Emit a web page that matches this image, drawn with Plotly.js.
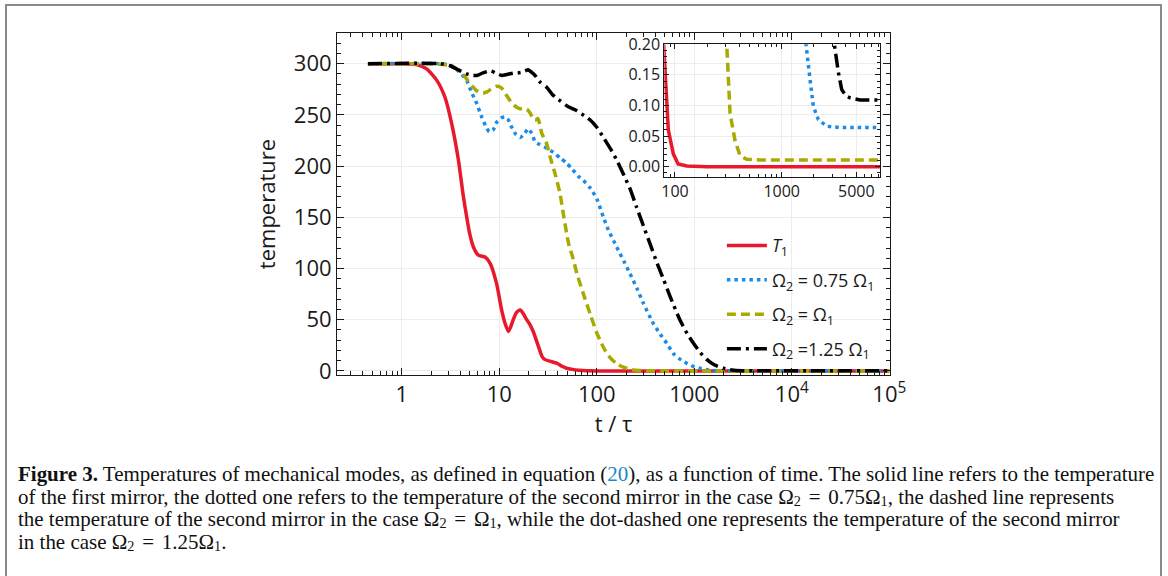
<!DOCTYPE html>
<html>
<head>
<meta charset="utf-8">
<script src="https://cdn.plot.ly/plotly-3.0.1.min.js"></script>
<style>
  html, body { margin: 0; padding: 0; background: #fff; }
  #wrap { position: relative; width: 1168px; height: 576px; overflow: hidden; }
  #chart { position: absolute; left: 0; top: 0; width: 1168px; height: 576px; }
  #frame { position: absolute; left: 5px; top: 4px; width: 1153px; height: 620px;
           border: 2px solid #8a8a8a; border-bottom: none; pointer-events: none; }
  #caption { position: absolute; left: 18px; top: 463px; width: 1150px;
             font-family: "Liberation Serif", "DejaVu Serif", serif; font-size: 20px;
             line-height: 22.6px; color: #111; }
  #caption .ln { white-space: nowrap; height: 22.6px; }
  #caption .ln span.inner { display: inline-block; }
  #caption b { font-weight: bold; }
  #caption .ref { color: #1a8ac6; }
  #caption sub { font-size: 68%; vertical-align: -0.16em; line-height: 0; }
  #caption .eq { padding: 0 0.12em; }
</style>
</head>
<body>
<div id="wrap">
  <div id="chart"></div>
  <div id="frame"></div>
  <div id="caption">
    <div class="ln"><span class="inner" id="firstLine"><b>Figure 3.</b> Temperatures of mechanical modes, as defined in equation (<span class="ref">20</span>), as a function of time. The solid line refers to the temperature</span></div>
    <div class="ln">of the first mirror, the dotted one refers to the temperature of the second mirror in the case Ω<sub>2</sub> <span class="eq">=</span> 0.75Ω<sub>1</sub>, the dashed line represents</div>
    <div class="ln">the temperature of the second mirror in the case Ω<sub>2</sub> <span class="eq">=</span> Ω<sub>1</sub>, while the dot-dashed one represents the temperature of the second mirror</div>
    <div class="ln">in the case Ω<sub>2</sub> <span class="eq">=</span> 1.25Ω<sub>1</sub>.</div>
  </div>
</div>
<script>
// Temperature of the first mirror, T1, versus t/τ
const tT1 = [0.45, 1.0, 1.3, 1.45, 1.8, 2.28, 2.78, 3.26, 3.81, 4.29, 4.64, 5.0, 5.43, 6.1, 7.2,
  8.06, 9.4, 10.6, 11.5, 12.4, 13.1, 13.9, 15.0, 16.4, 17.6, 19.1, 20.7, 22.4, 25.2, 27.5,
  29.5, 33, 38.9, 44, 49, 60, 72.8, 79.4, 86.6, 96.4, 107, 129, 200, 1000, 100000];
const T1 = [300, 300, 299.5, 299, 295, 284, 267, 241, 206, 170, 150, 133, 121, 113, 111,
  105, 85, 59, 46, 38.5, 43, 50, 57, 59.5, 56, 50, 45, 38, 24, 14,
  11, 9.5, 7.5, 4.5, 2.6, 1, 0.3, 0.18, 0.06, 0.021, 0.0045, 0.001, 0, 0, 0];

// Second mirror, Ω2 = 0.75 Ω1
const tB = [0.45, 2.5, 3.0, 3.39, 3.9, 4.64, 5.2, 5.88, 6.6, 7.45, 7.9, 8.6, 9.43, 10.4, 11.5,
  12.4, 13.4, 14.8, 16.4, 18, 19.8, 21.5, 23.3, 26, 30, 35.8, 42, 49, 56, 64.7, 72.8, 85,
  100, 117, 131, 160, 190, 219, 260, 301, 379, 447, 522, 609, 700, 837, 1000, 1140, 1400,
  1500, 1690, 1841, 1977, 2203, 2642, 3519, 5000, 100000];
const TB = [300, 300, 299, 297, 292, 283.5, 272, 261, 248, 237, 233.5, 235, 243, 247, 248,
  245, 238, 231, 228, 231, 236.5, 232, 224, 221, 218, 213.5, 208, 203, 197, 190, 186, 179,
  168, 150, 138, 121, 107, 95, 80, 66, 46.5, 36, 27, 17, 12, 7.5, 4, 2.6, 1,
  0.6, 0.2, 0.143, 0.099, 0.077, 0.066, 0.064, 0.064, 0.064];

// Second mirror, Ω2 = Ω1
const tY = [0.45, 2.5, 3.13, 3.6, 3.96, 4.4, 4.8, 5.3, 5.8, 6.3, 6.87, 7.5, 8.2, 9.43, 10.5,
  11.7, 12.9, 14, 15.1, 16.5, 18, 19.5, 21, 22.4, 23.5, 24.8, 26, 27.3, 30.6, 33.2, 38, 42,
  46, 51.2, 57, 62.6, 73, 86, 100, 108, 120, 137, 160, 187, 230, 278, 305, 328, 365, 407,
  470, 626, 1000, 100000];
const TY = [300, 299.5, 298, 295.5, 292, 288, 283, 278, 274, 272, 271.5, 272.5, 275, 278, 276.5,
  270, 264, 260, 257.5, 256, 256.5, 255, 251, 245.5, 245, 246.5, 241, 232, 222, 209, 190, 173,
  150, 125, 110, 95, 75, 55, 37, 30, 21, 13, 7, 3.8, 1.2, 0.35, 0.2, 0.087, 0.043, 0.018,
  0.012, 0.011, 0.011, 0.011];

// Second mirror, Ω2 = 1.25 Ω1
const tK = [0.45, 2.5, 3.13, 3.8, 4.64, 5.3, 5.88, 6.8, 8.06, 9.2, 10.6, 12, 13.9, 15.5, 17.7,
  19.8, 21.5, 23.3, 26.3, 30.6, 35, 41.8, 50, 60, 70, 85.6, 100, 117, 140, 160, 190, 219,
  256, 300, 352, 420, 481, 563, 711, 850, 981, 1150, 1350, 1600, 1990, 2300, 2700, 3112,
  3396, 3650, 4000, 4365, 5420, 100000];
const TK = [300, 300, 298, 294, 290, 288.5, 288.5, 291, 293, 291, 288.5, 289.5, 290.8, 291, 292,
  294, 291.5, 288.5, 282, 277, 270, 264, 258.5, 255, 251, 245, 238, 228, 216, 206, 191, 178,
  160, 142, 124, 104, 90, 73, 50, 36, 27, 18, 11, 6, 2.6, 1.2, 0.35, 0.2,
  0.154, 0.126, 0.116, 0.1125, 0.109, 0.108];

// Legend labels
const names = ['<i>T</i><sub>1</sub>', 'Ω<sub>2</sub> = 0.75 Ω<sub>1</sub>',
  'Ω<sub>2</sub> = Ω<sub>1</sub>', 'Ω<sub>2</sub> =1.25 Ω<sub>1</sub>'];

// Axis ticks
const xTicks = [1, 10, 100, 1000, 10000, 100000];
const xTickText = ['1', '10', '100', '1000', '10<sup>4</sup>', '10<sup>5</sup>'];
const yTicks = [0, 50, 100, 150, 200, 250, 300];
const insetXTicks = [100, 1000, 5000];
const insetYTicks = [0, 0.05, 0.10, 0.15, 0.20];

function logMinor(lo, hi) {
  const out = [];
  for (let e = lo; e <= hi; e++) for (let m = 2; m <= 9; m++) out.push(m * Math.pow(10, e));
  return out;
}

const series = [
  {x: tT1, y: T1, color: '#e8192c', dash: 'solid'},
  {x: tB, y: TB, color: '#1b8be6', dash: '3.5px,4px'},
  {x: tY, y: TY, color: '#a9a900', dash: '9px,5px'},
  {x: tK, y: TK, color: '#000000', dash: '14px,5px,3px,5px'}
];

const traces = [];
series.forEach((s, i) => {
  traces.push({
    x: s.x, y: s.y, type: 'scatter', mode: 'lines', name: names[i],
    legendgroup: 'g' + i,
    line: {color: s.color, width: 3.5, dash: s.dash, shape: 'spline', smoothing: 0.6},
    xaxis: 'x', yaxis: 'y', hoverinfo: 'skip'
  });
});
series.forEach((s, i) => {
  traces.push({
    x: s.x, y: s.y, type: 'scatter', mode: 'lines', showlegend: false,
    line: {color: s.color, width: 3.5, dash: s.dash},
    xaxis: 'x2', yaxis: 'y2', hoverinfo: 'skip'
  });
});

const ink = '#1a1a1a';
const frameAxis = {
  showline: true, linecolor: ink, linewidth: 1, mirror: 'allticks',
  ticks: 'inside', tickcolor: ink, tickwidth: 1, zeroline: false,
  showgrid: true, gridcolor: '#ececec', gridwidth: 1, automargin: false
};

const layout = {
  width: 1168, height: 576,
  margin: {l: 337, r: 278, t: 33, b: 201},
  paper_bgcolor: '#ffffff', plot_bgcolor: 'rgba(0,0,0,0)',
  font: {family: 'Open Sans, sans-serif', size: 22, color: ink},
  showlegend: true,
  legend: {x: 0.696, y: 0.432, xanchor: 'left', yanchor: 'top', bgcolor: 'rgba(0,0,0,0)',
           font: {size: 18, color: ink}, tracegroupgap: 8, itemwidth: 40},
  xaxis: Object.assign({}, frameAxis, {
    type: 'log', range: [-0.664, 5.007], tickmode: 'array', tickvals: xTicks, ticktext: xTickText,
    ticklen: 7, domain: [0, 1], anchor: 'y',
    minor: {tickmode: 'array', tickvals: logMinor(-1, 4), ticks: 'inside', ticklen: 4,
            tickcolor: ink, showgrid: false},
    title: {text: 't / τ', font: {size: 22}, standoff: 8}
  }),
  yaxis: Object.assign({}, frameAxis, {
    range: [-4, 330], tickmode: 'array', tickvals: yTicks, ticklen: 7, domain: [0, 1], anchor: 'x',
    minor: {dtick: 10, ticks: 'inside', ticklen: 4, tickcolor: ink, showgrid: false},
    title: {text: 'temperature', font: {size: 22}, standoff: 12}
  }),
  xaxis2: Object.assign({}, frameAxis, {
    type: 'log', range: [1.9, 3.921], tickmode: 'array', tickvals: insetXTicks,
    ticktext: insetXTicks.map(String), ticklen: 5,
    domain: [0.5919, 0.9819], anchor: 'y2', tickfont: {size: 16},
    minor: {tickmode: 'array', tickvals: logMinor(1, 3), ticks: 'inside', ticklen: 3,
            tickcolor: ink, showgrid: false}
  }),
  yaxis2: Object.assign({}, frameAxis, {
    range: [-0.0164, 0.2], tickmode: 'array', tickvals: insetYTicks, tickformat: '.2f', ticklen: 5,
    domain: [0.5798, 0.967], anchor: 'x2', tickfont: {size: 16},
    minor: {dtick: 0.01, ticks: 'inside', ticklen: 3, tickcolor: ink, showgrid: false}
  })
};

Plotly.newPlot('chart', traces, layout, {staticPlot: true, displayModeBar: false});

// Size the caption so its first line fills the text column (ragged right below)
(function fitCaption() {
  const cap = document.getElementById('caption');
  const first = document.getElementById('firstLine');
  const target = 1137;
  let size = 20;
  cap.style.fontSize = size + 'px';
  const w = first.getBoundingClientRect().width;
  if (w > 0) {
    size = Math.max(16, Math.min(22, size * target / w));
    cap.style.fontSize = size.toFixed(2) + 'px';
  }
})();
</script>
</body>
</html>
